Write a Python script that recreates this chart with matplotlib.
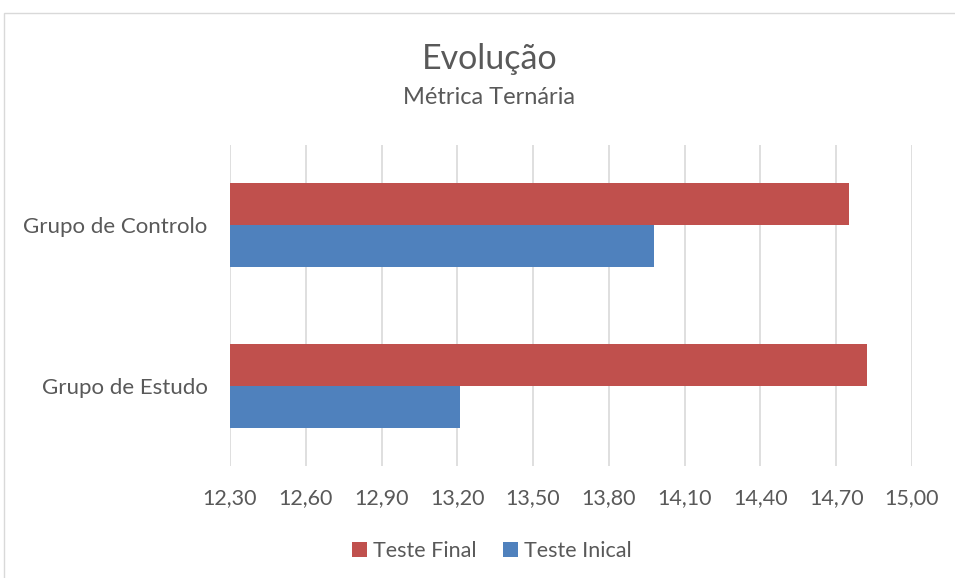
import matplotlib.pyplot as plt
from matplotlib.patches import Rectangle
from matplotlib.ticker import FuncFormatter

plt.rcParams['font.family'] = ['Lato', 'DejaVu Sans']

# Data
groups = ['Grupo de Estudo', 'Grupo de Controlo']
teste_final = [14.82, 14.75]
teste_inicial = [13.21, 13.98]
ticks = [12.30, 12.60, 12.90, 13.20, 13.50, 13.80, 14.10, 14.40, 14.70, 15.00]

red = '#C0504D'
blue = '#4F81BD'
text_col = '#595959'

fig = plt.figure(figsize=(9.55, 5.78), dpi=100)
ax = fig.add_axes([0.2408, 0.194, 0.7142, 0.555])

# chart frame
fig.patches.append(Rectangle((4 / 955, -0.1), 1.2, 1 - 13 / 578 + 0.1,
                             transform=fig.transFigure, fill=False,
                             edgecolor='#D9D9D9', linewidth=1))

y = range(len(groups))
h = 0.262
ax.barh([i + h / 2 for i in y], teste_final, height=h, color=red,
        label='Teste Final', zorder=3)
ax.barh([i - h / 2 for i in y], teste_inicial, height=h, color=blue,
        label='Teste Inical', zorder=3)

ax.set_xlim(12.30, 15.00)
ax.set_ylim(-0.5, 1.5)
ax.set_xticks(ticks)
ax.xaxis.set_major_formatter(FuncFormatter(lambda v, p: f'{v:.2f}'.replace('.', ',')))
ax.set_yticks(list(y))
ax.set_yticklabels(groups)
ax.grid(axis='x', color='#D9D9D9', linewidth=1.2, zorder=0)
for s in ax.spines.values():
    s.set_visible(False)
ax.tick_params(length=0, labelsize=15.5, colors=text_col)
ax.tick_params(axis='y', labelsize=16, pad=16)
ax.tick_params(axis='x', pad=16)

fig.text(0.5125, 0.898, 'Evolução', ha='center', va='center', fontsize=24.5, color=text_col)
fig.text(0.5125, 0.831, 'Métrica Ternária', ha='center', va='center', fontsize=17, color=text_col)

fig.legend(loc='center', bbox_to_anchor=(0.515, 0.047), ncol=2, frameon=False,
           fontsize=15.5, labelcolor=text_col, handlelength=0.7, handleheight=0.7,
           handletextpad=0.3, columnspacing=1.2)

fig.savefig('out.png', dpi=100)
